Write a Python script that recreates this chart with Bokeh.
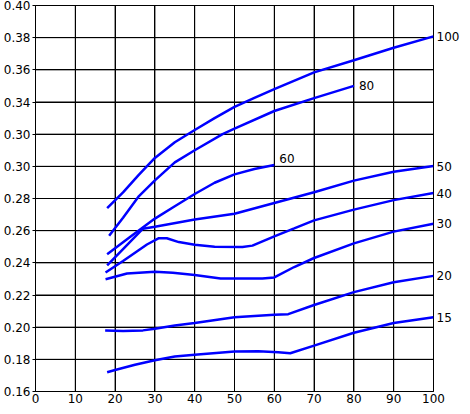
from bokeh.plotting import figure
from bokeh.models import FixedTicker, Label, PrintfTickFormatter, Range1d, LinearAxis, Span
from bokeh.embed import file_html
from bokeh.resources import INLINE

# ---- data ----
x_ticks = [0, 10, 20, 30, 40, 50, 60, 70, 80, 90, 100]
y_ticks = [0.16, 0.18, 0.20, 0.22, 0.24, 0.26, 0.28, 0.30, 0.32, 0.34, 0.36, 0.38, 0.40]
y_tick_overrides = {0.32: "0.30"}

x_100 = [18, 22, 26, 30, 35, 40, 45, 50, 55, 60, 70, 80, 90, 100]
y_100 = [0.274, 0.2838, 0.2948, 0.3052, 0.315, 0.3226, 0.330, 0.337, 0.3425, 0.348, 0.3584, 0.366, 0.3737, 0.3808]

x_80 = [18.5, 22, 26, 30, 35, 40, 47, 50, 60, 70, 80]
y_80 = [0.2569, 0.268, 0.2815, 0.2913, 0.3025, 0.310, 0.320, 0.3234, 0.3344, 0.3424, 0.350]

x_60 = [18, 24, 30, 35, 40, 45, 50, 55, 60]
y_60 = [0.2454, 0.2565, 0.2675, 0.2752, 0.2828, 0.2898, 0.2950, 0.2983, 0.3008]

x_50 = [18, 22, 27, 30, 40, 50, 60, 70, 80, 90, 100]
y_50 = [0.2384, 0.2485, 0.2612, 0.2625, 0.2669, 0.2705, 0.2772, 0.2839, 0.2911, 0.2966, 0.3002]

x_40 = [17.6, 22, 28, 31, 33, 36, 40, 45, 52, 54.5, 60, 65, 70, 80, 90, 100]
y_40 = [0.234, 0.2411, 0.2514, 0.2553, 0.2553, 0.2529, 0.2512, 0.2500, 0.2499, 0.2507, 0.2565, 0.2614, 0.2664, 0.2731, 0.2790, 0.2834]

x_30 = [17.6, 23, 30, 34.5, 40, 46.5, 57, 60, 65, 70, 80, 90, 100]
y_30 = [0.2298, 0.2334, 0.2344, 0.2338, 0.2324, 0.2303, 0.2303, 0.2309, 0.2374, 0.2430, 0.2521, 0.2594, 0.2643]

x_20 = [17.5, 22, 27, 30, 35, 40, 50, 60, 63.5, 70, 80, 90, 100]
y_20 = [0.198, 0.1976, 0.198, 0.199, 0.201, 0.2026, 0.2061, 0.2077, 0.2081, 0.2138, 0.2218, 0.2279, 0.2319]

x_15 = [18, 20, 25, 30, 35, 40, 50, 56, 61, 64, 70, 80, 90, 100]
y_15 = [0.172, 0.1734, 0.1766, 0.1794, 0.1818, 0.1828, 0.1848, 0.185, 0.1844, 0.1838, 0.1885, 0.1965, 0.2026, 0.2062]

series = [
    ("100", x_100, y_100),
    ("80", x_80, y_80),
    ("60", x_60, y_60),
    ("50", x_50, y_50),
    ("40", x_40, y_40),
    ("30", x_30, y_30),
    ("20", x_20, y_20),
    ("15", x_15, y_15),
]

FONT = "DejaVu Sans"
FSIZE = "12px"
BLUE = "#0000ff"

p = figure(width=462, height=405,
           x_range=Range1d(0, 100), y_range=Range1d(0.16, 0.40),
           output_backend="svg", toolbar_location=None,
           min_border_left=2, min_border_right=0,
           min_border_top=5, min_border_bottom=0)
p.background_fill_color = None
p.border_fill_color = None

p.outline_line_color = "black"
p.outline_line_alpha = 1.0
p.outline_line_width = 1

p.xaxis.ticker = FixedTicker(ticks=x_ticks)
p.yaxis.ticker = FixedTicker(ticks=y_ticks)
p.yaxis.formatter = PrintfTickFormatter(format="%.2f")
p.yaxis.major_label_overrides = y_tick_overrides

p.xgrid.grid_line_color = "black"
p.xgrid.grid_line_alpha = 1.0
p.ygrid.grid_line_color = "black"
p.ygrid.grid_line_alpha = 1.0

# grid lines at every tick (drawn beneath the curves)
for t in x_ticks:
    p.add_layout(Span(location=t, dimension="height", line_color="black",
                      line_width=1, level="underlay"))
for t in y_ticks:
    p.add_layout(Span(location=t, dimension="width", line_color="black",
                      line_width=1, level="underlay"))

for ax in (p.xaxis, p.yaxis):
    ax.axis_line_color = "black"
    ax.axis_line_width = 1
    ax.major_tick_line_color = "black"
    ax.minor_tick_line_color = None
    ax.major_tick_in = 0
    ax.major_label_text_font = FONT
    ax.major_label_text_font_size = FSIZE
    ax.major_label_text_color = "black"
    ax.major_label_standoff = 2
    ax.axis_label_standoff = 0
p.xaxis.major_tick_out = 0
p.yaxis.major_tick_out = 3

# curves ending at x = 100 are labelled just right of the frame
end_ticks = [ys[-1] for name, xs, ys in series if xs[-1] >= 100]
end_names = {ys[-1]: name for name, xs, ys in series if xs[-1] >= 100}
right_axis = LinearAxis(ticker=FixedTicker(ticks=end_ticks),
                        major_label_overrides=end_names,
                        axis_line_color=None, major_tick_line_color=None,
                        minor_tick_line_color=None,
                        major_tick_in=0, major_tick_out=0,
                        major_label_standoff=3, axis_label_standoff=0,
                        major_label_text_font=FONT,
                        major_label_text_font_size=FSIZE,
                        major_label_text_color="black")
p.add_layout(right_axis, "right")

label_offsets = {"60": (5, 7), "80": (5, 0)}

for name, xs, ys in series:
    p.line(xs, ys, line_color=BLUE, line_width=2.5)
    if xs[-1] < 100:
        dx, dy = label_offsets.get(name, (4, 0))
        p.add_layout(Label(x=xs[-1], y=ys[-1], text=name, x_offset=dx, y_offset=dy,
                           text_font=FONT, text_font_size=FSIZE, text_color="black",
                           text_baseline="middle", text_align="left"))

open("out.html", "w").write(file_html(p, INLINE))
